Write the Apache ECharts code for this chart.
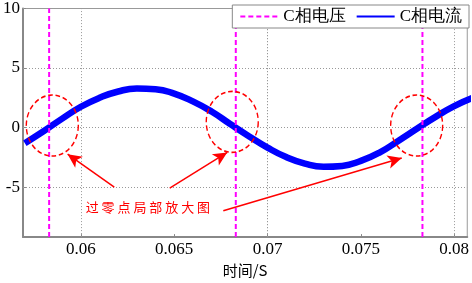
<!DOCTYPE html>
<html>
<head>
<meta charset="utf-8">
<script src="https://cdn.jsdelivr.net/npm/echarts@6/dist/echarts.min.js"></script>
<style>
html, body { margin: 0; padding: 0; background: #fff; }
#main { width: 472px; height: 283px; }
</style>
</head>
<body>
<div id="main"></div>
<script>
// 时间轴 / 数值范围
const xMin = 0.0569, xMax = 0.0807;
const yMin = -9.2, yMax = 10;
const xTicks = [0.06, 0.065, 0.07, 0.075, 0.08];
const yTicks = [-5, 0, 5, 10];

// C相电流 采样
const currentT = [0.057, 0.058, 0.059, 0.060, 0.061, 0.062, 0.063, 0.064, 0.065, 0.066, 0.067, 0.068,
                  0.069, 0.070, 0.071, 0.072, 0.073, 0.074, 0.075, 0.076, 0.077, 0.078, 0.079, 0.080, 0.081];
const currentI = [-1.31, -0.31, 0.75, 1.75, 2.5, 3.03, 3.28, 3.22, 2.85, 2.2, 1.35, 0.3,
                  -0.72, -1.68, -2.48, -3.03, -3.29, -3.22, -2.8, -2.1, -1.12, -0.1, 0.9, 1.8, 2.5];

// C相电压 过零时刻 (竖直虚线)
const voltageT = [0.0583, 0.0683, 0.0783];

// 标注: 椭圆中心, 箭头起止, 文字位置
const circleCenters = [[0.05847, 0.17], [0.06811, 0.48], [0.07799, 0.17]];
const arrows = [
    [[0.06179, -5.0], [0.05929, -2.24]],
    [[0.06476, -5.09], [0.06784, -2.09]],
    [[0.06763, -6.98], [0.07719, -2.56]]
];
const noteText = '过 零 点 局 部 放 大 图';
const notePos = [0.06359, -6.67];

const serif = '"Times New Roman", "Liberation Serif", "DejaVu Serif", serif';

let voltageData = [];
for (let i = 0; i < voltageT.length; i++) {
    voltageData.push([voltageT[i], yMin]);
    voltageData.push([voltageT[i], yMax]);
    voltageData.push([voltageT[i], '-']);
}
let currentData = currentT.map(function (t, i) { return [t, currentI[i]]; });

const myChart = echarts.init(document.getElementById('main'));
let option = {
    animation: false,
    backgroundColor: '#fff',
    textStyle: { fontFamily: serif },
    grid: {
        left: 21, right: 3, top: 5, bottom: 35,
        show: true,
        borderColor: '#999',
        borderWidth: 1
    },
    legend: {
        right: 3, top: 5,
        backgroundColor: '#fff',
        borderColor: '#888',
        borderWidth: 1,
        padding: [3, 7, 3, 7],
        itemGap: 10,
        itemWidth: 38,
        itemHeight: 10,
        itemStyle: { opacity: 0 },
        textStyle: { fontSize: 17, color: '#000', fontFamily: serif },
        data: ['C相电压', 'C相电流']
    },
    xAxis: {
        type: 'value',
        min: xMin, max: xMax,
        name: '时间/S',
        nameLocation: 'middle',
        nameGap: 20,
        nameTextStyle: { fontSize: 15, color: '#000', fontFamily: 'Noto Sans CJK SC' },
        axisLine: { onZero: false, lineStyle: { color: '#888', width: 2 } },
        axisTick: { show: true, inside: true, length: 3, customValues: xTicks, lineStyle: { color: '#888' } },
        axisLabel: {
            customValues: xTicks,
            margin: 4,
            fontSize: 17, color: '#000', fontFamily: serif
        },
        splitLine: { show: false }
    },
    yAxis: {
        type: 'value',
        min: yMin, max: yMax,
        axisLine: { show: true, lineStyle: { color: '#888', width: 2 } },
        axisTick: { show: true, inside: true, length: 3, customValues: yTicks, lineStyle: { color: '#888' } },
        axisLabel: {
            customValues: yTicks,
            margin: 3,
            fontSize: 17, color: '#000', fontFamily: serif
        },
        splitLine: { show: false }
    },
    series: [{
        name: 'C相电压',
        type: 'line',
        symbol: 'none',
        connectNulls: false,
        lineStyle: { color: '#ff00ff', width: 2, type: [5, 3] },
        itemStyle: { color: '#ff00ff' },
        data: voltageData,
        z: 3,
        // 网格虚线
        markLine: {
            silent: true,
            symbol: 'none',
            z: 1,
            label: { show: false },
            lineStyle: { color: '#999', type: [1, 2], width: 1 },
            data: xTicks.map(function (v) { return { xAxis: v }; })
                .concat(yTicks.map(function (v) { return { yAxis: v }; }))
        }
    }, {
        name: 'C相电流',
        type: 'line',
        symbol: 'none',
        smooth: true,
        lineStyle: { color: '#0000ff', width: 6.5 },
        itemStyle: { color: '#0000ff' },
        data: currentData,
        z: 2,
        markPoint: {
            silent: true,
            data: circleCenters.map(function (c) {
                return {
                    coord: c,
                    symbol: 'circle',
                    symbolSize: [52, 61],
                    itemStyle: { color: 'rgba(0,0,0,0)', borderColor: '#ff0000', borderWidth: 1.5, borderType: [5, 3] },
                    label: { show: false }
                };
            }).concat([{
                coord: notePos,
                symbol: 'circle',
                symbolSize: 0,
                label: {
                    show: true, position: 'inside',
                    formatter: noteText,
                    color: '#ff0000', fontSize: 13,
                    fontFamily: 'Noto Sans CJK SC'
                }
            }])
        },
        markLine: {
            silent: true,
            symbol: ['none', 'arrow'],
            symbolSize: [10, 14],
            label: { show: false },
            lineStyle: { color: '#ff0000', width: 1.5, type: 'solid' },
            data: arrows.map(function (a) {
                return [{ coord: a[0] }, { coord: a[1] }];
            })
        }
    }]
};
myChart.setOption(option);
window.addEventListener('resize', function () {
    myChart.resize();
});
</script>
</body>
</html>
